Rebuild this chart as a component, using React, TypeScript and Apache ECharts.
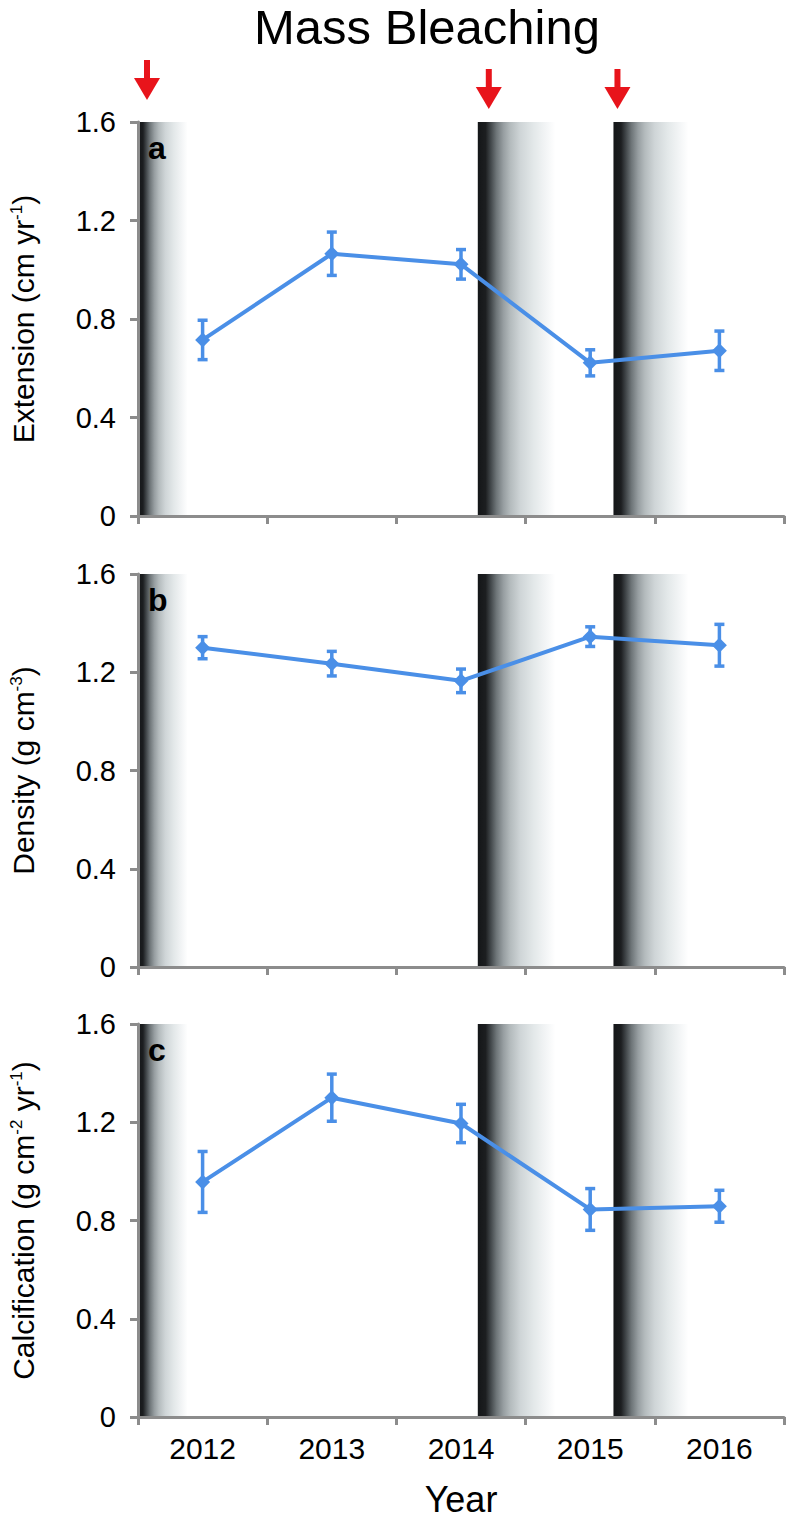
import React, { useEffect, useRef } from 'react';
import * as echarts from 'echarts';

const years = ['2012', '2013', '2014', '2015', '2016'];
const extension = [0.715, 1.065, 1.022, 0.622, 0.671];
const extensionErr = [0.08, 0.088, 0.06, 0.053, 0.08];
const density = [1.3, 1.235, 1.165, 1.345, 1.31];
const densityErr = [0.045, 0.05, 0.048, 0.04, 0.085];
const calcification = [0.957, 1.3, 1.195, 0.845, 0.858];
const calcificationErr = [0.124, 0.096, 0.078, 0.085, 0.065];
const yMin = 0;
const yMax = 1.6;
const yInterval = 0.4;
// bleaching periods on a 0..5 year-position scale
const bleachStart = [0, 2.63, 3.68];
const bleachEnd = [0.385, 3.23, 4.26];
const panelLetters = ['a', 'b', 'c'];
const yNames = [
  'Extension (cm yr{sup|-1})',
  'Density (g cm{sup|-3})',
  'Calcification (g cm{sup|-2} yr{sup|-1})',
];
const titleText = 'Mass Bleaching';
const xName = 'Year';

const FONT = '"Liberation Sans", Arial, Helvetica, sans-serif';
const BLUE = '#4a8fe7';
const AXIS = '#8c8c8c';
const RED = '#e8141b';

const grids = [
  { left: 133, width: 651, top: 122, height: 394 },
  { left: 133, width: 651, top: 574, height: 393 },
  { left: 133, width: 651, top: 1024, height: 393 },
];

const bandStops = [
  { offset: 0, color: '#141618' },
  { offset: 0.1, color: '#1c1e20' },
  { offset: 0.16, color: '#3e4346' },
  { offset: 0.24, color: '#6e7578' },
  { offset: 0.33, color: '#979ea1' },
  { offset: 0.42, color: '#b4bbbd' },
  { offset: 0.55, color: '#cfd5d7' },
  { offset: 0.72, color: '#e3e8e9' },
  { offset: 0.88, color: '#f3f5f6' },
  { offset: 1, color: '#ffffff' },
];

export default function App() {
  const ref = useRef<HTMLDivElement>(null);

  useEffect(() => {
    if (!ref.current) return;
    const chart = echarts.init(ref.current, null, { renderer: 'svg' });

    const panels = [
      { vals: extension, errs: extensionErr },
      { vals: density, errs: densityErr },
      { vals: calcification, errs: calcificationErr },
    ];

    const xAxis: any[] = [];
    const yAxis: any[] = [];
    const series: any[] = [];

    panels.forEach((p, i) => {
      const last = i === panels.length - 1;
      xAxis.push({
        type: 'category',
        gridIndex: i,
        data: years,
        boundaryGap: true,
        z: 5,
        axisLine: { show: true, lineStyle: { color: AXIS, width: 3 } },
        axisTick: { show: true, length: 8, alignWithLabel: false, lineStyle: { color: AXIS, width: 3 } },
        axisLabel: { show: last, fontSize: 30, color: '#000', fontFamily: FONT, margin: 16 },
        splitLine: { show: false },
        name: last ? xName : '',
        nameLocation: 'middle',
        nameGap: 64,
        nameTextStyle: { fontSize: 36, color: '#000', fontFamily: FONT },
      });
      xAxis.push({
        type: 'value',
        gridIndex: i,
        min: 0,
        max: 5,
        show: false,
      });
      yAxis.push({
        type: 'value',
        gridIndex: i,
        min: yMin,
        max: yMax,
        interval: yInterval,
        z: 5,
        name: yNames[i],
        nameLocation: 'middle',
        nameGap: 100,
        nameTextStyle: {
          fontSize: 30,
          color: '#000',
          fontFamily: FONT,
          rich: { sup: { fontSize: 17, verticalAlign: 'top', fontFamily: FONT, color: '#000' } },
        },
        axisLine: { show: true, lineStyle: { color: AXIS, width: 3 } },
        axisTick: { show: true, length: 8, lineStyle: { color: AXIS, width: 3 } },
        axisLabel: {
          fontSize: 29,
          color: '#000',
          fontFamily: FONT,
          margin: 22,
          formatter: (v: number) => (v === 0 ? '0' : v.toFixed(1)),
        },
        splitLine: { show: false },
      });

      series.push({
        type: 'custom',
        xAxisIndex: 2 * i + 1,
        yAxisIndex: i,
        silent: true,
        z: 1,
        data: bleachStart.map((s, k) => [s, bleachEnd[k]]),
        encode: { x: [0, 1] },
        renderItem: (_params: any, api: any) => {
          const a = api.coord([api.value(0), yMax]);
          const b = api.coord([api.value(1), yMin]);
          return {
            type: 'rect',
            shape: { x: a[0], y: a[1], width: b[0] - a[0], height: b[1] - a[1] },
            style: { fill: new echarts.graphic.LinearGradient(0, 0, 1, 0, bandStops) },
          };
        },
      });

      series.push({
        type: 'custom',
        xAxisIndex: 2 * i,
        yAxisIndex: i,
        silent: true,
        z: 3,
        data: p.vals.map((v, k) => [k, v - p.errs[k], v + p.errs[k]]),
        encode: { x: 0, y: [1, 2] },
        renderItem: (_params: any, api: any) => {
          const lo = api.coord([api.value(0), api.value(1)]);
          const hi = api.coord([api.value(0), api.value(2)]);
          const hw = 5;
          const st = { stroke: BLUE, lineWidth: 3.5 };
          return {
            type: 'group',
            children: [
              { type: 'line', shape: { x1: lo[0], y1: lo[1], x2: hi[0], y2: hi[1] }, style: st },
              { type: 'line', shape: { x1: lo[0] - hw, y1: lo[1], x2: lo[0] + hw, y2: lo[1] }, style: st },
              { type: 'line', shape: { x1: hi[0] - hw, y1: hi[1], x2: hi[0] + hw, y2: hi[1] }, style: st },
            ],
          };
        },
      });

      series.push({
        type: 'line',
        xAxisIndex: 2 * i,
        yAxisIndex: i,
        z: 4,
        data: p.vals,
        symbol: 'diamond',
        symbolSize: 15,
        showSymbol: true,
        lineStyle: { color: BLUE, width: 4 },
        itemStyle: { color: BLUE },
        silent: true,
      });
    });

    chart.setOption({
      animation: false,
      grid: grids.map((g) => ({ ...g })),
      xAxis,
      yAxis,
      series,
    });

    const graphic: any[] = [
      {
        type: 'text',
        x: 427,
        y: 27,
        style: {
          text: titleText,
          fontSize: 49,
          fontFamily: FONT,
          fill: '#000',
          textAlign: 'center',
          textVerticalAlign: 'middle',
        },
      },
    ];
    grids.forEach((g, i) => {
      graphic.push({
        type: 'text',
        x: g.left + 15,
        y: g.top + 42,
        z: 10,
        style: {
          text: panelLetters[i],
          fontSize: 32,
          fontWeight: 'bold',
          fontFamily: FONT,
          fill: '#000',
          textAlign: 'left',
          textVerticalAlign: 'bottom',
        },
      });
    });
    bleachStart.forEach((s, k) => {
      const px = chart.convertToPixel({ xAxisIndex: 1, yAxisIndex: 0 } as any, [s, yMax]) as any;
      const cx = px[0] + (k === 0 ? 9 : k === 1 ? 11 : 4);
      const tip = k === 0 ? 100 : 109;
      const len = 40;
      const headH = 22;
      const headW = 26;
      graphic.push({
        type: 'group',
        z: 10,
        children: [
          {
            type: 'rect',
            shape: { x: cx - 3, y: tip - len, width: 6, height: len - headH + 2 },
            style: { fill: RED },
          },
          {
            type: 'polygon',
            shape: {
              points: [
                [cx - headW / 2, tip - headH],
                [cx + headW / 2, tip - headH],
                [cx, tip],
              ],
            },
            style: { fill: RED },
          },
        ],
      });
    });
    chart.setOption({ graphic });

    return () => chart.dispose();
  }, []);

  return (
    <div
      ref={ref}
      style={{ position: 'absolute', left: 0, top: 0, width: 786, height: 1525, background: '#fff' }}
    />
  );
}
